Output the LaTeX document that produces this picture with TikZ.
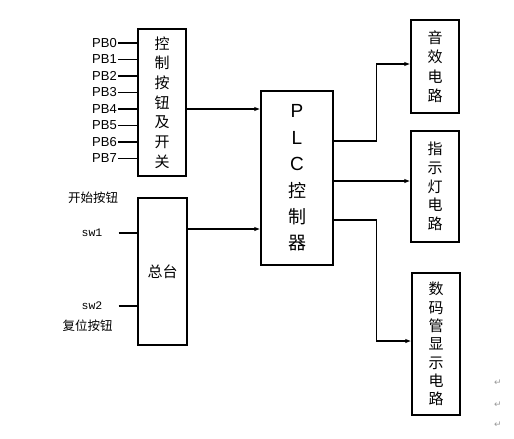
\documentclass[tikz,border=0pt]{standalone}
\usepackage{fontspec}
\setmainfont{Liberation Sans}
\newfontfamily\cjk{Noto Sans CJK SC}
\newfontfamily\swfont{Liberation Mono}
\newfontfamily\markfont{DejaVu Sans}
\usetikzlibrary{arrows.meta}

\begin{document}
\begin{tikzpicture}[x=1pt, y=-1pt,
      kasten/.style={draw, line width=1.3pt, inner sep=0pt, align=center},
      zeichen/.style={font=\cjk\fontsize{#1}{#1}\selectfont},
      pfeil/.style={line width=1.2pt, -{Latex[length=6pt,width=4.5pt]}},
      leitung/.style={line width=1.2pt},
      every node/.style={font=\small}]
    \useasboundingbox (0,0) rectangle (514,439);
    % inputs
    \node[kasten, minimum width=48pt, minimum height=147pt,
          font=\cjk\fontsize{15}{19.7}\selectfont] (tasten) at (162,102.5)
          {控\\制\\按\\钮\\及\\开\\关};
    \foreach \i in {0,...,7} {
      \node[anchor=east, inner sep=0pt, font=\fontsize{13}{13}\selectfont] (pb\i) at (117,43+16.5*\i) {PB\i};
      \draw[leitung] ([xshift=1pt]pb\i.east) -- (tasten.west |- pb\i.east);
    }
    \node[kasten, minimum width=49pt, minimum height=147pt,
          font=\cjk\fontsize{15}{15}\selectfont] (zentrale) at (162.5,271.5) {总台};
    \node[zeichen=12.5] (start) at (93,198) {开始按钮};
    \node[zeichen=12.5] (reset) at (87.5,326) {复位按钮};
    \node[inner sep=0pt, font=\swfont\fontsize{11.5}{11.5}\selectfont] (sw1) at (92,233) {sw1};
    \node[inner sep=0pt, font=\swfont\fontsize{11.5}{11.5}\selectfont] (sw2) at (92,306) {sw2};
    \draw[leitung] ([xshift=16pt]sw1.east) -- (zentrale.west |- sw1.east);
    \draw[leitung] ([xshift=16pt]sw2.east) -- (zentrale.west |- sw2.east);
    % controller
    \node[kasten, minimum width=72pt, minimum height=174pt,
          font=\fontsize{19}{26.4}\selectfont] (plc) at (297,178)
          {P\\L\\C\\{\cjk\fontsize{18}{26.4}\selectfont 控}\\{\cjk\fontsize{18}{26.4}\selectfont 制}\\{\cjk\fontsize{18}{26.4}\selectfont 器}};
    \draw[pfeil] (tasten.east |- 0,109) -- (plc.west |- 0,109);
    \draw[pfeil] (zentrale.east |- 0,229) -- (plc.west |- 0,229);
    % outputs
    \node[kasten, minimum width=48pt, minimum height=93pt,
          font=\cjk\fontsize{15}{19.5}\selectfont] (sound) at (435,66.5)
          {音\\效\\电\\路};
    \node[kasten, minimum width=48pt, minimum height=111pt,
          font=\cjk\fontsize{15}{18.75}\selectfont] (lampe) at (435,186.5)
          {指\\示\\灯\\电\\路};
    \node[kasten, minimum width=48pt, minimum height=142pt,
          font=\cjk\fontsize{15}{18.3}\selectfont] (anzeige) at (436,344)
          {数\\码\\管\\显\\示\\电\\路};
    \draw[pfeil] (plc.east |- 0,141) -- ++(43,0) |- ([yshift=2.5pt]sound.west);
    \draw[pfeil] (plc.east |- 0,181) -- (lampe.west |- 0,181);
    \draw[pfeil] (plc.east |- 0,220) -- ++(43,0) |- ([yshift=3pt]anzeige.west);
    % paragraph marks
    \foreach \y [count=\k] in {383,405,425}
      \node[text=black!40, font=\markfont\fontsize{9}{9}\selectfont] (absatz\k) at (498,\y) {↵};
  \end{tikzpicture}
\end{document}
